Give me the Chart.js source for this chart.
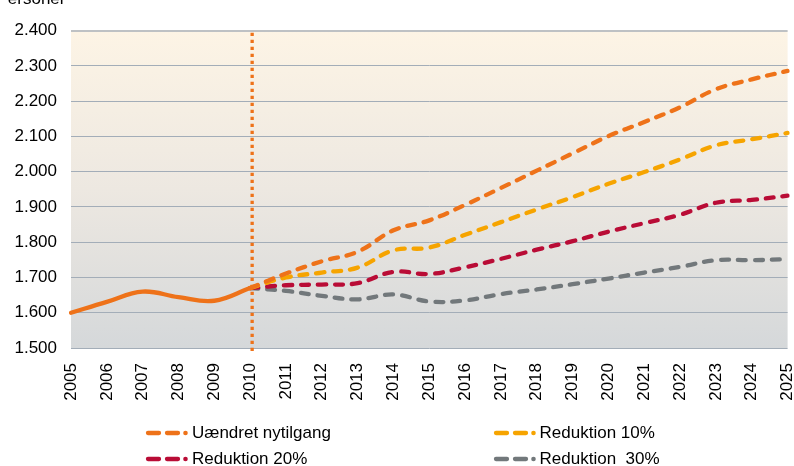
<!DOCTYPE html>
<html><head><meta charset="utf-8">
<script src="https://cdn.jsdelivr.net/npm/chart.js@4"></script>
<style>
html,body{margin:0;padding:0;background:#fff;}
#wrap{position:relative;width:794px;height:466px;overflow:hidden;font-family:"Liberation Sans",Arial,sans-serif;}
#c{position:absolute;left:0;top:0;}
.ylab{position:absolute;left:-3.5px;top:-10.4px;font-size:17px;line-height:17px;color:#000;white-space:nowrap;}
.leg{position:absolute;height:20px;display:flex;align-items:center;font-size:17px;line-height:20px;color:#000;white-space:nowrap;}
.leg svg{display:block;margin-right:1px;}
</style>
</head><body>
<div id="wrap">
<canvas id="c" width="794" height="466"></canvas>
<div class="ylab">Personer</div>
<div id="legend"></div>
</div>
<script>
const years = ['2005','2006','2007','2008','2009','2010','2011','2012','2013','2014','2015','2016','2017','2018','2019','2020','2021','2022','2023','2024','2025'];
const historik = [1600,1631,1660,1644,1634,1670];
const uaendret = [1670,1711,1746,1773,1834,1862,1906,1954,2003,2052,2101,2141,2183,2234,2262,2286];
const red10 = [1670,1700,1714,1728,1777,1785,1821,1857,1893,1928,1966,1999,2035,2075,2092,2110];
const red20 = [1670,1678,1680,1684,1716,1710,1729,1753,1779,1803,1830,1854,1878,1912,1920,1932];
const red30 = [1670,1662,1648,1638,1652,1632,1635,1653,1666,1681,1697,1714,1730,1749,1749,1752];
const seriesNames = ['Uændret nytilgang','Reduktion 10%','Reduktion 20%','Reduktion  30%'];
const yTicks = [1500,1600,1700,1800,1900,2000,2100,2200,2300,2400];
const markerYear = '2010';

const C_OR = '#EE7219', C_YE = '#F6A400', C_RE = '#B90C36', C_GR = '#72787B';
const FONT = {family:'"Liberation Sans", Arial, sans-serif', size:17};

const startIdx = years.indexOf(markerYear);
function padHist(arr){ const out = years.map(()=>null); arr.forEach((v,i)=>out[i]=v); return out; }
function padProj(arr){ const out = years.map(()=>null); arr.forEach((v,i)=>out[startIdx+i]=v); return out; }
const fmt = v => String(v).replace(/\B(?=(\d{3})+(?!\d))/g,'.');

const dashStyle = (label, data, color) => ({
  label, data, borderColor: color, backgroundColor: color, borderWidth: 4.3,
  borderDash: [8,9], borderCapStyle: 'round', pointRadius: 0, tension: 0.4, fill: false, spanGaps: false
});

const bgPlugin = {
  id: 'bg',
  beforeDraw(chart){
    const {ctx, chartArea:a} = chart;
    const g = ctx.createLinearGradient(0, a.top, 0, a.bottom);
    g.addColorStop(0, '#FDF4E5');
    g.addColorStop(0.5, '#EDE8E1');
    g.addColorStop(1, '#D5D8DA');
    ctx.save(); ctx.fillStyle = g; ctx.fillRect(a.left, a.top, a.right - a.left, a.bottom - a.top); ctx.restore();
  }
};
const vlinePlugin = {
  id: 'vline',
  beforeDatasetsDraw(chart){
    const {ctx, chartArea:a, scales} = chart;
    const x = scales.x.getPixelForValue(startIdx) + 2;
    ctx.save();
    ctx.strokeStyle = C_OR; ctx.lineWidth = 3.3; ctx.setLineDash([3.2,3.8]);
    ctx.beginPath(); ctx.moveTo(x, a.top + 2); ctx.lineTo(x, a.bottom + 3); ctx.stroke();
    ctx.restore();
  }
};

new Chart(document.getElementById('c'), {
  type: 'line',
  data: {
    labels: years,
    datasets: [
      {label:'Historik', data: padHist(historik), borderColor: C_OR, borderWidth: 4.3, pointRadius: 0, tension: 0.4, fill:false, borderCapStyle:'round'},
      dashStyle(seriesNames[0], padProj(uaendret), C_OR),
      dashStyle(seriesNames[1], padProj(red10), C_YE),
      dashStyle(seriesNames[2], padProj(red20), C_RE),
      dashStyle(seriesNames[3], padProj(red30), C_GR)
    ]
  },
  options: {
    responsive: false, animation: false,
    layout: {padding: {left: 0, right: 6.4, top: 30.7, bottom: 0}},
    plugins: {legend: {display: false}, tooltip: {enabled: false}},
    scales: {
      x: {
        offset: false,
        grid: {display: false, drawTicks: false},
        border: {display: false},
        ticks: {font: FONT, color: '#000', minRotation: 90, maxRotation: 90, padding: 15, autoSkip: false},
        afterFit(s){ s.height = 466 - 348; s.paddingLeft = 0; s.paddingRight = 0; }
      },
      y: {
        min: 1500, max: 2400,
        afterBuildTicks(s){ s.ticks = yTicks.map(v => ({value: v})); },
        grid: {
          drawTicks: false,
          color: c => (c.tick && c.tick.value === 2400) ? '#BEC1C4' : '#A3ADB8',
          lineWidth: c => (c.tick && c.tick.value === 2400) ? 2 : 1
        },
        border: {display: false},
        ticks: {font: FONT, color: '#000', padding: 14, callback: v => fmt(v)},
        afterFit(s){ s.width = 71; }
      }
    }
  },
  plugins: [bgPlugin, vlinePlugin]
});

// legend
const legItems = [
  {name: seriesNames[0], color: C_OR, left: 144, top: 423},
  {name: seriesNames[1], color: C_YE, left: 491.6, top: 423},
  {name: seriesNames[2], color: C_RE, left: 144, top: 449},
  {name: seriesNames[3], color: C_GR, left: 491.6, top: 449}
];
const legEl = document.getElementById('legend');
legItems.forEach(it => {
  const d = document.createElement('div');
  d.className = 'leg';
  d.style.left = it.left + 'px'; d.style.top = it.top + 'px';
  d.innerHTML = '<svg width="47" height="20" viewBox="0 0 47 20">' +
    '<line x1="4" y1="10" x2="15" y2="10" stroke="'+it.color+'" stroke-width="4.3" stroke-linecap="round"/>' +
    '<line x1="23" y1="10" x2="34" y2="10" stroke="'+it.color+'" stroke-width="4.3" stroke-linecap="round"/>' +
    '<circle cx="41.5" cy="10" r="2.3" fill="'+it.color+'"/></svg>';
  const s = document.createElement('span');
  s.textContent = it.name;
  s.style.whiteSpace = 'pre';
  d.appendChild(s);
  legEl.appendChild(d);
});
</script>
</body></html>
